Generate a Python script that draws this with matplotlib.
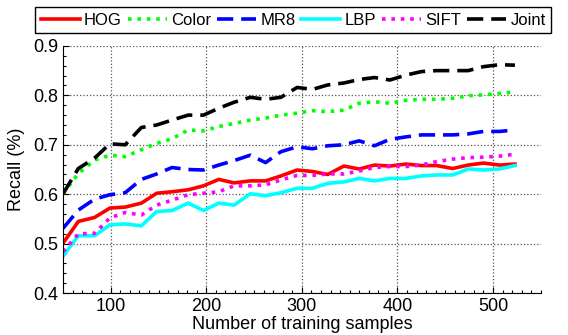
import matplotlib
matplotlib.use("Agg")
import matplotlib.pyplot as plt
from matplotlib.ticker import MultipleLocator

plt.rcParams['font.family'] = ['Liberation Sans', 'DejaVu Sans']

# training set sizes
samples = [50, 66, 83, 99, 115, 132, 148, 164, 181, 197,
           213, 229, 246, 262, 278, 295, 311, 327, 344, 360,
           376, 392, 409, 425, 441, 458, 474, 490, 507, 523]

hog = [0.501, 0.545, 0.553, 0.572, 0.574, 0.582, 0.602, 0.605, 0.609, 0.617,
       0.630, 0.623, 0.627, 0.627, 0.637, 0.649, 0.646, 0.640, 0.657, 0.651,
       0.659, 0.657, 0.661, 0.658, 0.658, 0.652, 0.659, 0.663, 0.659, 0.661]
color = [0.601, 0.642, 0.669, 0.679, 0.676, 0.690, 0.703, 0.712, 0.730, 0.728,
         0.737, 0.743, 0.750, 0.754, 0.760, 0.764, 0.769, 0.767, 0.770, 0.784,
         0.787, 0.784, 0.790, 0.792, 0.792, 0.794, 0.799, 0.801, 0.804, 0.807]
mr8 = [0.531, 0.568, 0.590, 0.599, 0.603, 0.630, 0.641, 0.654, 0.650, 0.649,
       0.659, 0.668, 0.679, 0.664, 0.686, 0.696, 0.692, 0.698, 0.700, 0.708,
       0.698, 0.711, 0.716, 0.720, 0.720, 0.720, 0.722, 0.727, 0.727, 0.730]
lbp = [0.475, 0.516, 0.516, 0.538, 0.540, 0.536, 0.565, 0.567, 0.582, 0.567,
       0.582, 0.578, 0.601, 0.597, 0.603, 0.612, 0.612, 0.622, 0.625, 0.632,
       0.627, 0.632, 0.632, 0.637, 0.639, 0.639, 0.651, 0.649, 0.651, 0.658]
sift = [0.484, 0.520, 0.521, 0.552, 0.563, 0.558, 0.578, 0.588, 0.599, 0.602,
        0.605, 0.617, 0.617, 0.619, 0.629, 0.638, 0.638, 0.641, 0.641, 0.647,
        0.654, 0.656, 0.656, 0.659, 0.666, 0.671, 0.674, 0.675, 0.677, 0.681]
joint = [0.601, 0.652, 0.673, 0.702, 0.700, 0.735, 0.740, 0.750, 0.760, 0.760,
         0.774, 0.786, 0.796, 0.792, 0.796, 0.816, 0.812, 0.821, 0.825, 0.832,
         0.836, 0.831, 0.841, 0.848, 0.850, 0.850, 0.850, 0.858, 0.862, 0.861]

fig = plt.figure(figsize=(5.68, 3.35), dpi=100)
ax = fig.add_axes([0.111, 0.125, 0.841, 0.738])

lw = 2.6
ax.plot(samples, hog, color='#ff0000', lw=lw, ls='-', label='HOG')
ax.plot(samples, color, color='#00ff00', lw=lw, ls=(0, (1, 1.6)), label='Color')
ax.plot(samples, mr8, color='#0000ff', lw=lw, ls=(0, (4.5, 2.2)), label='MR8')
ax.plot(samples, lbp, color='#00ffff', lw=lw, ls='-', label='LBP')
ax.plot(samples, sift, color='#ff00ff', lw=lw, ls=(0, (1, 1.6)), label='SIFT')
ax.plot(samples, joint, color='#000000', lw=lw, ls=(0, (4.5, 2.2)), label='Joint')

ax.set_xlim(50, 550)
ax.set_ylim(0.4, 0.9)
ax.xaxis.set_major_locator(MultipleLocator(100))
ax.yaxis.set_major_locator(MultipleLocator(0.1))
ax.xaxis.set_minor_locator(MultipleLocator(10))
ax.yaxis.set_minor_locator(MultipleLocator(0.02))
ax.set_yticklabels(['%.1f' % v for v in ax.get_yticks()])
ax.tick_params(which='both', direction='in', labelsize=13, width=0.8)
ax.tick_params(which='major', length=4)
ax.tick_params(which='minor', length=2)
ax.grid(True, which='major', ls=':', color='#555555', lw=0.9)
ax.spines['top'].set_visible(False)
ax.spines['right'].set_visible(False)

ax.set_xlabel('Number of training samples', fontsize=13, labelpad=1)
ax.set_ylabel('Recall (%)', fontsize=13, labelpad=6)

leg = fig.legend(loc='center', bbox_to_anchor=(0.516, 0.94), ncol=6, fontsize=12,
                 handlelength=2.35, handletextpad=0.25, columnspacing=0.35,
                 borderpad=0.35, borderaxespad=0, fancybox=False, framealpha=1)
leg.get_frame().set_edgecolor('black')
leg.get_frame().set_linewidth(1.0)

fig.savefig('out.png', dpi=100)
